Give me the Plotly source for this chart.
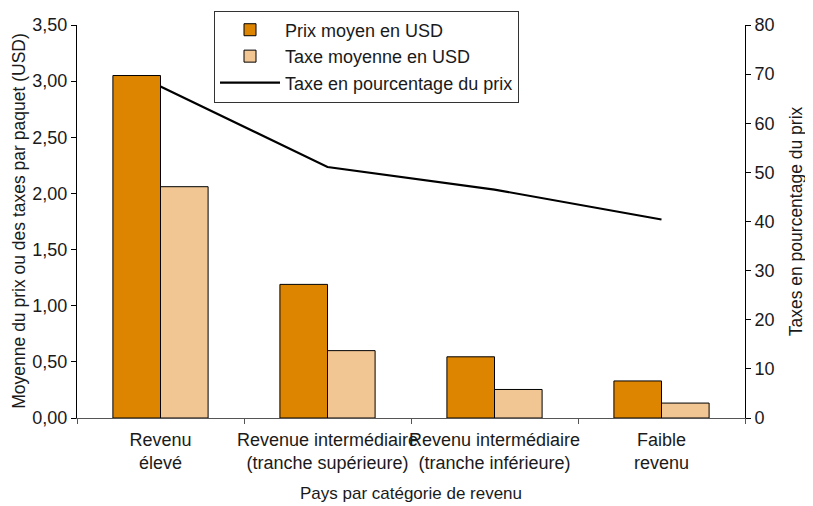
import plotly.graph_objects as go

categories = [
    "Revenu<br>élevé",
    "Revenue intermédiaire<br>(tranche supérieure)",
    "Revenu intermédiaire<br>(tranche inférieure)",
    "Faible<br>revenu",
]
prix_moyen = [3.05, 1.19, 0.545, 0.33]
taxe_moyenne = [2.06, 0.60, 0.254, 0.133]
taxe_pct = [67.5, 51.1, 46.5, 40.4]

left_ticks = [0, 0.5, 1.0, 1.5, 2.0, 2.5, 3.0, 3.5]
left_labels = ["0,00", "0,50", "1,00", "1,50", "2,00", "2,50", "3,00", "3,50"]

font_family = "Liberation Sans, Arial, sans-serif"

fig = go.Figure()

fig.add_trace(
    go.Bar(
        x=categories,
        y=prix_moyen,
        name="Prix moyen en USD",
        marker=dict(color="#DD8500", line=dict(color="black", width=1)),
    )
)

fig.add_trace(
    go.Bar(
        x=categories,
        y=taxe_moyenne,
        name="Taxe moyenne en USD",
        marker=dict(color="#F2C693", line=dict(color="black", width=1)),
    )
)

fig.add_trace(
    go.Scatter(
        x=categories,
        y=taxe_pct,
        mode="lines",
        name="Taxe en pourcentage du prix",
        line=dict(color="black", width=2.2),
        yaxis="y2",
    )
)

# titre de l'axe de gauche posé en annotation (position fixe)
fig.add_annotation(
    text="Moyenne du prix ou des taxes par paquet (USD)",
    xref="paper",
    yref="paper",
    x=-0.088,
    y=0.5,
    xanchor="center",
    yanchor="middle",
    textangle=-90,
    showarrow=False,
    font=dict(size=17.5),
)

# la page ajoute une marge de 8 px autour du graphique : on la compense ici
fig.update_layout(
    width=813,
    height=506,
    margin=dict(l=69, r=76, t=17, b=96, autoexpand=False),
    paper_bgcolor="white",
    plot_bgcolor="white",
    font=dict(family=font_family, size=18, color="#1a1a1a"),
    barmode="group",
    bargap=0.43,
    bargroupgap=0,
    showlegend=True,
    legend=dict(
        xref="container",
        yref="container",
        x=0.2534,
        y=0.995,
        xanchor="left",
        yanchor="top",
        bgcolor="white",
        bordercolor="#333333",
        borderwidth=1,
        font=dict(size=18),
        tracegroupgap=0,
        itemwidth=60,
    ),
    xaxis=dict(
        title=dict(text="Pays par catégorie de revenu", standoff=15, font=dict(size=17)),
        showline=True,
        linecolor="#555555",
        linewidth=1,
        ticks="outside",
        tickson="boundaries",
        ticklen=5,
        tickcolor="#555555",
        tickangle=0,
        ticklabelstandoff=5,
        showgrid=False,
        range=[-0.5, 3.5],
    ),
    yaxis=dict(
        range=[0, 3.5],
        tickvals=left_ticks,
        ticktext=left_labels,
        showline=True,
        linecolor="black",
        linewidth=1,
        ticks="outside",
        ticklen=5,
        tickcolor="black",
        showgrid=False,
        zeroline=False,
    ),
    yaxis2=dict(
        title=dict(text="Taxes en pourcentage du prix", standoff=16, font=dict(size=17.5)),
        range=[0, 80],
        dtick=10,
        overlaying="y",
        side="right",
        showline=True,
        linecolor="black",
        linewidth=1,
        ticks="outside",
        ticklen=5,
        tickcolor="black",
        showgrid=False,
        zeroline=False,
    ),
)

fig.write_html("out.html")
